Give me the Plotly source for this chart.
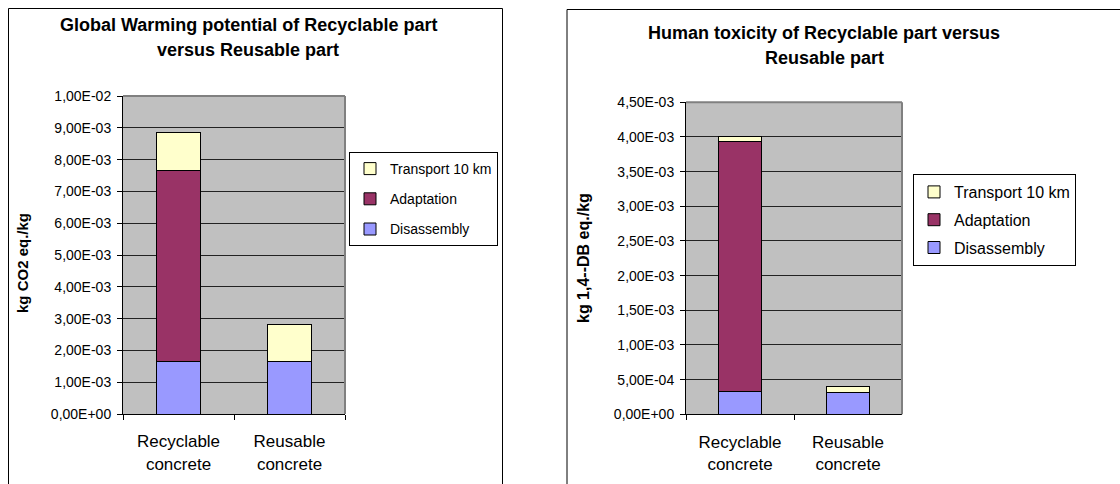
import plotly.graph_objects as go

W, H = 1120, 484

categories = ["Recyclable<br>concrete", "Reusable<br>concrete"]
series_names = ["Disassembly", "Adaptation", "Transport 10 km"]
series_colors = ["#9999FF", "#993366", "#FFFFCC"]

gwp_disassembly = [1.64e-3, 1.64e-3]
gwp_adaptation = [6.03e-3, 0]
gwp_transport = [1.18e-3, 1.19e-3]

htox_disassembly = [3.25e-4, 3.2e-4]
htox_adaptation = [3.605e-3, 0]
htox_transport = [7.0e-5, 8.5e-5]

gwp_ticks = [i * 1e-3 for i in range(11)]
htox_ticks = [i * 5e-4 for i in range(10)]

FONT = "Liberation Sans, Arial, sans-serif"


def excel_label(v):
    return f"{v:.2E}".replace(".", ",")


def px_x(p):
    return p / W


def px_y(p):
    return 1 - p / H


fig = go.Figure()

gwp_data = [gwp_disassembly, gwp_adaptation, gwp_transport]
htox_data = [htox_disassembly, htox_adaptation, htox_transport]

# legend lists the series top-down, opposite to the stacking order
for i, (name, color, vals) in enumerate(zip(series_names, series_colors, gwp_data)):
    fig.add_trace(go.Bar(name=name, x=categories, y=vals, width=0.4,
                         marker=dict(color=color, line=dict(color="black", width=1)),
                         xaxis="x", yaxis="y", legend="legend",
                         legendgroup="a" + name, legendrank=10 - i))
for i, (name, color, vals) in enumerate(zip(series_names, series_colors, htox_data)):
    fig.add_trace(go.Bar(name=name, x=categories, y=vals, width=0.4,
                         marker=dict(color=color, line=dict(color="black", width=1)),
                         xaxis="x2", yaxis="y2", legend="legend2",
                         legendgroup="b" + name, legendrank=10 - i))


def xaxis(domain, anchor):
    return dict(domain=domain, anchor=anchor, showline=True, linecolor="black",
                linewidth=1, ticks="outside", tickson="boundaries", ticklen=5,
                tickcolor="black", tickfont=dict(size=17, color="black", family=FONT),
                ticklabelstandoff=12, showgrid=False, fixedrange=True, automargin=False)


def yaxis(domain, anchor, rng, ticks):
    return dict(domain=domain, anchor=anchor, range=rng, tickvals=ticks,
                ticktext=[excel_label(t) for t in ticks], showline=True,
                linecolor="black", linewidth=1, ticks="outside", ticklen=5,
                tickcolor="black", tickfont=dict(size=14, color="black", family=FONT),
                ticklabelstandoff=3, showgrid=True, gridcolor="#222222", gridwidth=1,
                zeroline=False, fixedrange=True, automargin=False)


def legend(x, y, size, gap):
    return dict(x=px_x(x), y=px_y(y), bgcolor="white", bordercolor="black",
                borderwidth=1, traceorder="grouped", tracegroupgap=gap,
                font=dict(size=size, color="black", family=FONT),
                xanchor="left", yanchor="top", itemwidth=30)


fig.update_layout(
    width=W, height=H, margin=dict(l=0, r=0, t=0, b=0, pad=0, autoexpand=False),
    barmode="stack", paper_bgcolor="white", plot_bgcolor="#C0C0C0",
    font=dict(family=FONT, color="black"),
    xaxis=xaxis([px_x(123), px_x(345)], "y"),
    yaxis=yaxis([px_y(414), px_y(96)], "x", [0, 0.01], gwp_ticks),
    xaxis2=xaxis([px_x(686), px_x(902)], "y2"),
    yaxis2=yaxis([px_y(414.3), px_y(102.3)], "x2", [0, 0.0045], htox_ticks),
    legend=legend(349, 152, 14, 9),
    legend2=legend(913, 174, 16, 4),
)

# chart frames
fig.add_shape(type="rect", xref="paper", yref="paper", x0=px_x(8.5), x1=px_x(502.5),
              y0=px_y(8.5), y1=-0.05, line=dict(color="black", width=1))
fig.add_shape(type="rect", xref="paper", yref="paper", x0=px_x(567), x1=1.05,
              y0=px_y(9.5), y1=-0.05, line=dict(color="black", width=1))
# grey top and right edges of the plot areas
for xr, yr in (("x domain", "y domain"), ("x2 domain", "y2 domain")):
    fig.add_shape(type="line", xref=xr, yref=yr, x0=0, x1=1, y0=1, y1=1,
                  line=dict(color="#808080", width=2))
    fig.add_shape(type="line", xref=xr, yref=yr, x0=1, x1=1, y0=0, y1=1,
                  line=dict(color="#808080", width=2))

titles = [
    ("Global Warming potential of Recyclable part", 248, 25),
    ("versus Reusable part", 248, 50),
    ("Human toxicity of Recyclable part versus", 824, 33),
    ("Reusable part", 824, 58),
]
for text, x, y in titles:
    fig.add_annotation(text=f"<b>{text}</b>", x=px_x(x), y=px_y(y), xref="paper",
                       yref="paper", showarrow=False, xanchor="center", yanchor="middle",
                       font=dict(size=18, color="black", family=FONT))

for text, x, y, size in (("kg CO2 eq./kg", 22, 263, 15), ("kg 1,4--DB eq./kg", 583, 258, 16)):
    fig.add_annotation(text=f"<b>{text}</b>", x=px_x(x), y=px_y(y), xref="paper",
                       yref="paper", showarrow=False, textangle=-90,
                       xanchor="center", yanchor="middle",
                       font=dict(size=size, color="black", family=FONT))

fig.write_html("out.html", config={"displayModeBar": False},
               post_script="document.body.style.margin = '0';")
